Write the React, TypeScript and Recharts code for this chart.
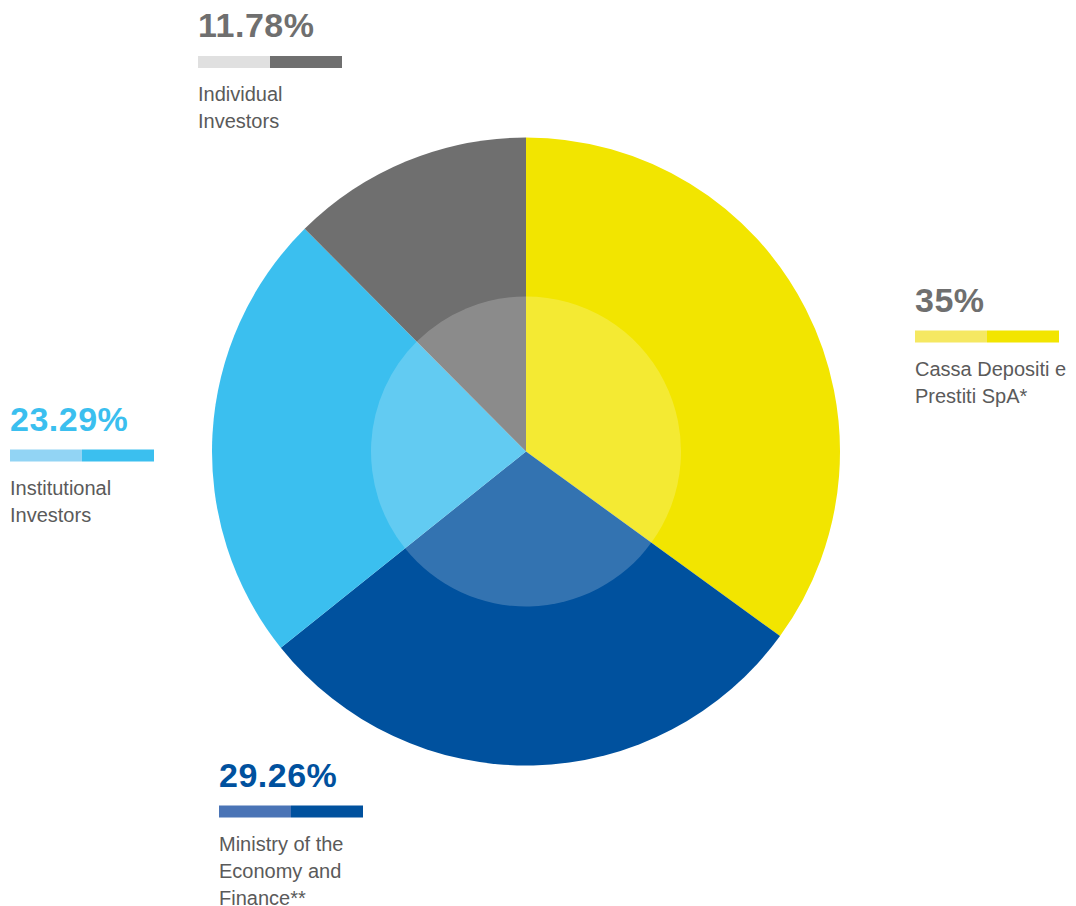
import React from "react";
import { PieChart, Pie, Cell } from "recharts";

const categories = [
  "Cassa Depositi e Prestiti SpA*",
  "Ministry of the Economy and Finance**",
  "Institutional Investors",
  "Individual Investors",
];
// slice sizes as drawn in the picture (the grey slice fills the circle to 100%)
const values = [35, 29.26, 23.29, 12.45];
const pctLabels = ["35%", "29.26%", "23.29%", "11.78%"];
const labelLines = [
  ["Cassa Depositi e", "Prestiti SpA*"],
  ["Ministry of the", "Economy and", "Finance**"],
  ["Institutional", "Investors"],
  ["Individual", "Investors"],
];
const sliceColors = ["#f2e500", "#00519e", "#3bbfef", "#6f6f6f"];
const barLightColors = ["#f5e862", "#4a74b6", "#92d4f4", "#e0e0e0"];
const pctColors = ["#6f6f6f", "#00519e", "#3bbfef", "#6f6f6f"];
// label block anchors: left x and baseline of percentage text
const labelAnchors = [
  { x: 915, y: 311.5 },
  { x: 219, y: 786.5 },
  { x: 10, y: 430.5 },
  { x: 198, y: 37 },
];

const data = categories.map((name, i) => ({ name, value: values[i] }));

const FONT = "'Liberation Sans', Arial, Helvetica, sans-serif";

export default function App() {
  return (
    <div style={{ position: "absolute", left: 0, top: 0, width: 1076, height: 906, background: "#fff" }}>
      <PieChart
        width={1076}
        height={906}
        margin={{ top: 0, right: 0, bottom: 0, left: 0 }}
        style={{ position: "absolute", left: 0, top: 0 }}
      >
        <Pie
          data={data}
          dataKey="value"
          nameKey="name"
          cx={526}
          cy={451.5}
          outerRadius={314}
          innerRadius={0}
          startAngle={90}
          endAngle={-270}
          stroke="none"
          isAnimationActive={false}
        >
          {data.map((d, i) => (
            <Cell key={i} fill={sliceColors[i]} stroke="none" />
          ))}
        </Pie>
        <Pie
          data={data}
          dataKey="value"
          nameKey="name"
          cx={526}
          cy={451.5}
          outerRadius={155}
          innerRadius={0}
          startAngle={90}
          endAngle={-270}
          stroke="none"
          isAnimationActive={false}
        >
          {data.map((d, i) => (
            <Cell key={i} fill="#ffffff" fillOpacity={0.2} stroke="none" />
          ))}
        </Pie>
      </PieChart>
      <svg width={1076} height={906} style={{ position: "absolute", left: 0, top: 0, pointerEvents: "none" }}>
        {labelAnchors.map((a, i) => (
          <g key={i}>
            <text
              x={a.x}
              y={a.y}
              fill={pctColors[i]}
              fontFamily={FONT}
              fontWeight="bold"
              fontSize={34}
              letterSpacing={0.5}
            >
              {pctLabels[i]}
            </text>
            <rect x={a.x} y={a.y + 19} width={72} height={12} fill={barLightColors[i]} />
            <rect x={a.x + 72} y={a.y + 19} width={72} height={12} fill={sliceColors[i]} />
            {labelLines[i].map((line, j) => (
              <text
                key={j}
                x={a.x}
                y={a.y + 64 + j * 27}
                fill="#5a5a5a"
                fontFamily={FONT}
                fontSize={20}
              >
                {line}
              </text>
            ))}
          </g>
        ))}
      </svg>
    </div>
  );
}
